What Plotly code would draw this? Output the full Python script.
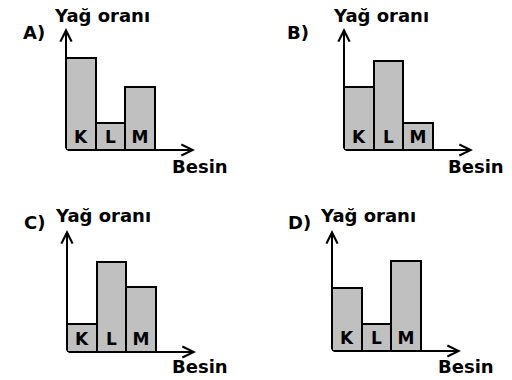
import plotly.graph_objects as go

# Data
categories = ["K", "L", "M"]
panel_names = ["A)", "B)", "C)", "D)"]
values_A = [3.4, 1.0, 2.35]
values_B = [2.35, 3.3, 1.0]
values_C = [1.05, 3.35, 2.4]
values_D = [2.35, 1.0, 3.35]
y_title = "Yağ oranı"
x_title = "Besin"

W, H = 512, 380
FONT = "DejaVu Sans"
BAR_PX = 29.5
X_AXIS_PX = 129
Y_UNIT_PX = 27

# panel layouts in pixels
panels = [
    dict(vals=values_A, ox=66, oy=150, top=28, lab=(34, 32), yt=(102, 15), xt=(200, 167)),
    dict(vals=values_B, ox=344, oy=150, top=28, lab=(298, 32), yt=(381, 15), xt=(476, 167)),
    dict(vals=values_C, ox=67, oy=352, top=230, lab=(34, 222), yt=(103, 215), xt=(200, 366)),
    dict(vals=values_D, ox=332, oy=351, top=230, lab=(299, 222), yt=(368, 215), xt=(466, 366)),
]

fig = go.Figure()
annotations = []
layout_axes = {}
for i, (p, name) in enumerate(zip(panels, panel_names), start=1):
    xa = "x" if i == 1 else f"x{i}"
    ya = "y" if i == 1 else f"y{i}"
    xmax = -0.5 + X_AXIS_PX / BAR_PX
    ymax = (p["oy"] - p["top"]) / Y_UNIT_PX
    fig.add_trace(go.Bar(
        x=list(range(len(categories))), y=p["vals"], text=categories,
        textposition="inside", insidetextanchor="start", textangle=0,
        textfont=dict(family=FONT, size=17, color="black", weight="bold"),
        marker=dict(color="#c0c0c0", line=dict(color="black", width=2)),
        width=1, xaxis=xa, yaxis=ya, showlegend=False, hoverinfo="skip",
    ))
    xkey = "xaxis" if i == 1 else f"xaxis{i}"
    ykey = "yaxis" if i == 1 else f"yaxis{i}"
    layout_axes[xkey] = dict(domain=[p["ox"] / W, (p["ox"] + X_AXIS_PX) / W],
                             range=[-0.5, xmax], visible=False, anchor=ya, fixedrange=True)
    layout_axes[ykey] = dict(domain=[1 - p["oy"] / H, 1 - p["top"] / H],
                             range=[0, ymax], visible=False, anchor=xa, fixedrange=True)
    # axis arrows
    for tip in [(xmax, 0), (-0.5, ymax)]:
        annotations.append(dict(
            x=tip[0], y=tip[1], ax=-0.5, ay=0, xref=xa, yref=ya, axref=xa, ayref=ya,
            text="", showarrow=True, arrowhead=5, arrowsize=1.1, arrowwidth=2,
            arrowcolor="black", standoff=0, startstandoff=0,
        ))
    for txt, pos in [(name, p["lab"]), (y_title, p["yt"]), (x_title, p["xt"])]:
        annotations.append(dict(
            x=pos[0] / W, y=1 - pos[1] / H, xref="paper", yref="paper",
            xanchor="center", yanchor="middle", text=txt, showarrow=False,
            font=dict(family=FONT, size=18, color="black", weight="bold"),
        ))

fig.update_layout(
    width=W, height=H, margin=dict(l=0, r=0, t=0, b=0),
    paper_bgcolor="white", plot_bgcolor="white", bargap=0,
    annotations=annotations, uniformtext=dict(minsize=16, mode="show"),
    **layout_axes,
)
fig.write_html("out.html", config={"displayModeBar": False},
               post_script="document.body.style.margin='0';document.body.style.overflow='hidden';")
